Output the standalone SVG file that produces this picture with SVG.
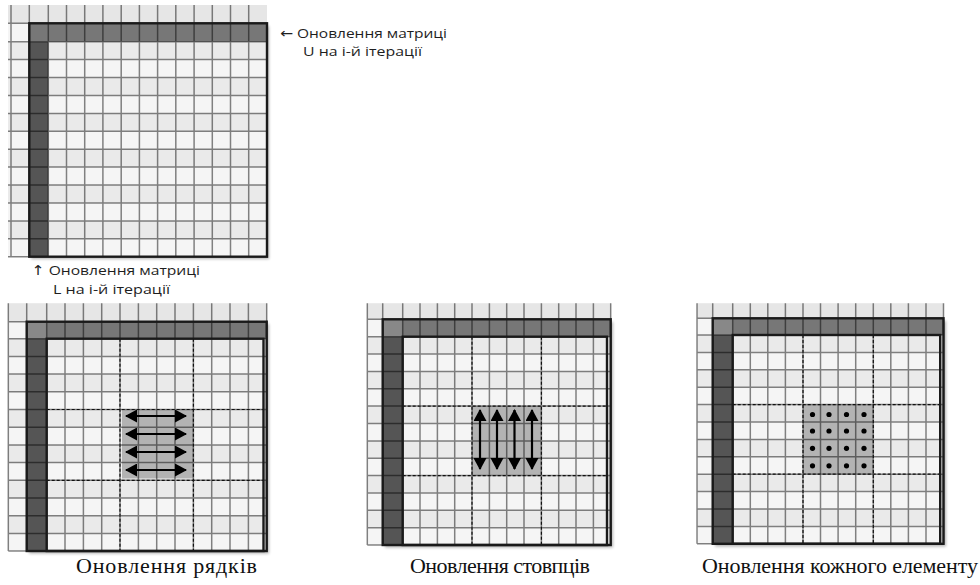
<svg xmlns="http://www.w3.org/2000/svg" width="980" height="585" viewBox="0 0 980 585">
<style>
.g{stroke:#000;stroke-opacity:.48;stroke-width:1.5;fill:none}
.d{stroke:#111;stroke-width:1.2;stroke-dasharray:3 2;fill:none}
.b{stroke:#1a1a1a;stroke-width:2.4;fill:none}
.trow{fill:#777}.corner{fill:#888}.col{fill:#555}.hl{fill:#b3b3b3}
.row0{fill:#e6e6e6}.base{fill:#f5f5f5}
.sh{fill:#000;opacity:.3}
.lab{font-family:"Liberation Serif","Times New Roman",serif;font-size:22px;fill:#111;text-anchor:middle}
.note{font-family:"Open Sans","Liberation Sans",sans-serif;font-size:13.5px;fill:#1e1e1e}
.ar{font-family:"DejaVu Sans",sans-serif}
.arr{stroke:#000;stroke-width:2.2;marker-start:url(#ah);marker-end:url(#ah)}
.dot{fill:#000}
</style>
<defs>
<filter id="blur" x="-10%" y="-10%" width="120%" height="120%"><feGaussianBlur stdDeviation="1.6"/></filter>
<marker id="ah" viewBox="0 0 12 13" refX="11" refY="6.5" markerWidth="12" markerHeight="13" markerUnits="userSpaceOnUse" orient="auto-start-reverse"><path d="M0 0L12 6.5L0 13z" fill="#000"/></marker>
<pattern id="bT" x="0" y="41.7" width="20" height="35.84" patternUnits="userSpaceOnUse"><rect width="20" height="17.92" fill="#eaeaea"/><rect y="17.92" width="20" height="17.92" fill="#f5f5f5"/></pattern>
<pattern id="bM1" x="0" y="338.7" width="20" height="35.4" patternUnits="userSpaceOnUse"><rect width="20" height="17.7" fill="#eaeaea"/><rect y="17.7" width="20" height="17.7" fill="#f5f5f5"/></pattern>
<pattern id="bM2" x="0" y="336.7" width="20" height="34.72" patternUnits="userSpaceOnUse"><rect width="20" height="17.36" fill="#eaeaea"/><rect y="17.36" width="20" height="17.36" fill="#f5f5f5"/></pattern>
<pattern id="bM3" x="0" y="335" width="20" height="34.8" patternUnits="userSpaceOnUse"><rect width="20" height="17.4" fill="#eaeaea"/><rect y="17.4" width="20" height="17.4" fill="#f5f5f5"/></pattern>
</defs>
<rect width="980" height="585" fill="#fff"/>

<g id="matrix-top">
<rect class="sh" filter="url(#blur)" x="31" y="26" width="238" height="233"/>
<rect class="base" x="8" y="5" width="259" height="251.7"/>
<rect class="row0" x="8" y="5" width="259" height="18.3"/>
<rect fill="url(#bT)" x="8" y="41.7" width="259" height="215"/>
<rect class="trow" x="29.3" y="23.3" width="237.7" height="18.4"/>
<rect class="col" x="29.3" y="41.7" width="19" height="215"/>
<path class="g" d="M11 5V256.7M29.3 5V256.7M48.3 5V256.7M66.5 5V256.7M84.7 5V256.7M102.9 5V256.7M121.2 5V256.7M139.4 5V256.7M157.6 5V256.7M175.8 5V256.7M194.1 5V256.7M212.3 5V256.7M230.5 5V256.7M248.7 5V256.7M8 23.3H267M8 41.7H267M8 59.6H267M8 77.5H267M8 95.5H267M8 113.4H267M8 131.3H267M8 149.2H267M8 167.1H267M8 185.1H267M8 203H267M8 220.9H267M8 238.8H267M8 256.7H29.3"/>
<rect class="b" x="29.3" y="23.3" width="237.7" height="233.4"/>
<text class="note" x="280" y="38" textLength="167" lengthAdjust="spacingAndGlyphs"><tspan class="ar">←</tspan> Оновлення матриці</text>
<text class="note" x="303" y="56" textLength="119" lengthAdjust="spacingAndGlyphs">U на і-й ітерації</text>
<text class="note" x="31.5" y="275" textLength="168.5" lengthAdjust="spacingAndGlyphs"><tspan class="ar">↑</tspan> Оновлення матриці</text>
<text class="note" x="53" y="294" textLength="117" lengthAdjust="spacingAndGlyphs">L на і-й ітерації</text>
</g>

<g id="matrix-rows">
<rect class="sh" filter="url(#blur)" x="29" y="324" width="240" height="229.5"/>
<rect class="base" x="8.3" y="303.3" width="258.4" height="247.7"/>
<rect class="row0" x="8.3" y="303.3" width="258.4" height="18.4"/>
<rect fill="url(#bM1)" x="8.3" y="338.7" width="258.4" height="212.3"/>
<rect class="trow" x="26.7" y="321.7" width="240" height="17"/>
<rect class="corner" x="26.7" y="321.7" width="20" height="17"/>
<rect class="col" x="26.7" y="338.7" width="20" height="212.3"/>
<rect class="hl" x="122" y="409.5" width="71.4" height="69"/>
<path class="g" d="M8.3 303.3V551M26.7 303.3V551M46.7 303.3V551M65 303.3V551M83.4 303.3V551M101.7 303.3V551M120 303.3V551M138.4 303.3V551M156.7 303.3V551M175 303.3V551M193.4 303.3V551M211.7 303.3V551M230 303.3V551M248.4 303.3V551M266.7 303.3V551M8.3 321.7H266.7M8.3 338.7H266.7M8.3 356.4H266.7M8.3 374.1H266.7M8.3 391.8H266.7M8.3 409.5H266.7M8.3 427.2H266.7M8.3 444.9H266.7M8.3 462.6H266.7M8.3 480.3H266.7M8.3 498H266.7M8.3 515.7H266.7M8.3 533.4H266.7M8.3 551H266.7"/>
<path class="d" d="M120 338.7V551M193.4 338.7V551M46.7 409.5H263.5M46.7 480.3H263.5"/>
<rect class="b" x="26.7" y="321.7" width="240" height="229.3"/>
<rect class="b" x="46.7" y="338.7" width="216.8" height="212.3"/>
<text class="lab" x="166.5" y="573" textLength="181" lengthAdjust="spacing">Оновлення рядків</text>
</g>

<g id="matrix-cols">
<rect class="sh" filter="url(#blur)" x="385" y="322" width="228" height="225.5"/>
<rect class="base" x="367.3" y="303.3" width="243.4" height="241.7"/>
<rect class="row0" x="367.3" y="303.3" width="243.4" height="16"/>
<rect fill="url(#bM2)" x="367.3" y="336.7" width="243.4" height="208.3"/>
<rect class="trow" x="382.7" y="319.3" width="228" height="17.4"/>
<rect class="corner" x="382.7" y="319.3" width="20" height="17.4"/>
<rect class="col" x="382.7" y="336.7" width="20" height="208.3"/>
<rect class="hl" x="472" y="406.1" width="69.4" height="69.5"/>
<path class="g" d="M367.3 303.3V545M382.7 303.3V545M402.7 303.3V545M420 303.3V545M437.4 303.3V545M454.7 303.3V545M472 303.3V545M489.4 303.3V545M506.7 303.3V545M524 303.3V545M541.4 303.3V545M558.7 303.3V545M576 303.3V545M593.4 303.3V545M610.7 303.3V545M367.3 319.3H610.7M367.3 336.7H610.7M367.3 354.1H610.7M367.3 371.4H610.7M367.3 388.8H610.7M367.3 406.1H610.7M367.3 423.5H610.7M367.3 440.9H610.7M367.3 458.2H610.7M367.3 475.6H610.7M367.3 492.9H610.7M367.3 510.3H610.7M367.3 527.7H610.7M367.3 545H610.7"/>
<path class="d" d="M472 336.7V545M541.4 336.7V545M402.7 406.1H607M402.7 475.6H607"/>
<rect class="b" x="382.7" y="319.3" width="228" height="225.7"/>
<rect class="b" x="402.7" y="336.7" width="204.3" height="208.3"/>
<text class="lab" x="500" y="573" textLength="180" lengthAdjust="spacing">Оновлення стовпців</text>
</g>

<g id="matrix-elements">
<rect class="sh" filter="url(#blur)" x="715" y="321" width="231" height="225.5"/>
<rect class="base" x="697" y="303.3" width="246.5" height="240.5"/>
<rect class="row0" x="697" y="303.3" width="246.5" height="15"/>
<rect fill="url(#bM3)" x="697" y="335" width="246.5" height="208.8"/>
<rect class="trow" x="712.7" y="318.3" width="230.8" height="16.7"/>
<rect class="corner" x="712.7" y="318.3" width="20" height="16.7"/>
<rect class="col" x="712.7" y="335" width="20" height="208.8"/>
<rect class="hl" x="803" y="404.6" width="70.3" height="69.6"/>
<path class="g" d="M697 303.3V543.8M712.7 303.3V543.8M732.7 303.3V543.8M750.3 303.3V543.8M767.8 303.3V543.8M785.4 303.3V543.8M803 303.3V543.8M820.5 303.3V543.8M838.1 303.3V543.8M855.7 303.3V543.8M873.3 303.3V543.8M890.8 303.3V543.8M908.4 303.3V543.8M926 303.3V543.8M943.5 303.3V543.8M697 318.3H943.5M697 335H943.5M697 352.4H943.5M697 369.8H943.5M697 387.2H943.5M697 404.6H943.5M697 422H943.5M697 439.4H943.5M697 456.8H943.5M697 474.2H943.5M697 491.6H943.5M697 509H943.5M697 526.4H943.5M697 543.8H943.5"/>
<path class="d" d="M803 335V543.8M873.3 335V543.8M732.7 404.6H940.2M732.7 474.2H940.2"/>
<rect class="b" x="712.7" y="318.3" width="230.8" height="225.5"/>
<rect class="b" x="732.7" y="335" width="207.5" height="208.8"/>
<g class="dot">
<circle cx="812.5" cy="414.5" r="2.6"/><circle cx="829" cy="414.5" r="2.6"/><circle cx="846.5" cy="414.5" r="2.6"/><circle cx="864" cy="414.5" r="2.6"/>
<circle cx="812.5" cy="431" r="2.6"/><circle cx="829" cy="431" r="2.6"/><circle cx="846.5" cy="431" r="2.6"/><circle cx="864" cy="431" r="2.6"/>
<circle cx="812.5" cy="448.3" r="2.6"/><circle cx="829" cy="448.3" r="2.6"/><circle cx="846.5" cy="448.3" r="2.6"/><circle cx="864" cy="448.3" r="2.6"/>
<circle cx="812.5" cy="465.8" r="2.6"/><circle cx="829" cy="465.8" r="2.6"/><circle cx="846.5" cy="465.8" r="2.6"/><circle cx="864" cy="465.8" r="2.6"/>
</g>
<text class="lab" x="840" y="573" textLength="276" lengthAdjust="spacing">Оновлення кожного елементу</text>
</g>

<g id="connectors">
<line class="arr" x1="126" y1="416" x2="186" y2="416"/>
<line class="arr" x1="126" y1="434" x2="186" y2="434"/>
<line class="arr" x1="126" y1="452" x2="186" y2="452"/>
<line class="arr" x1="126" y1="470" x2="186" y2="470"/>
<line class="arr" x1="480" y1="410" x2="480" y2="469"/>
<line class="arr" x1="497" y1="410" x2="497" y2="469"/>
<line class="arr" x1="514.5" y1="410" x2="514.5" y2="469"/>
<line class="arr" x1="532" y1="410" x2="532" y2="469"/>
</g>
</svg>
